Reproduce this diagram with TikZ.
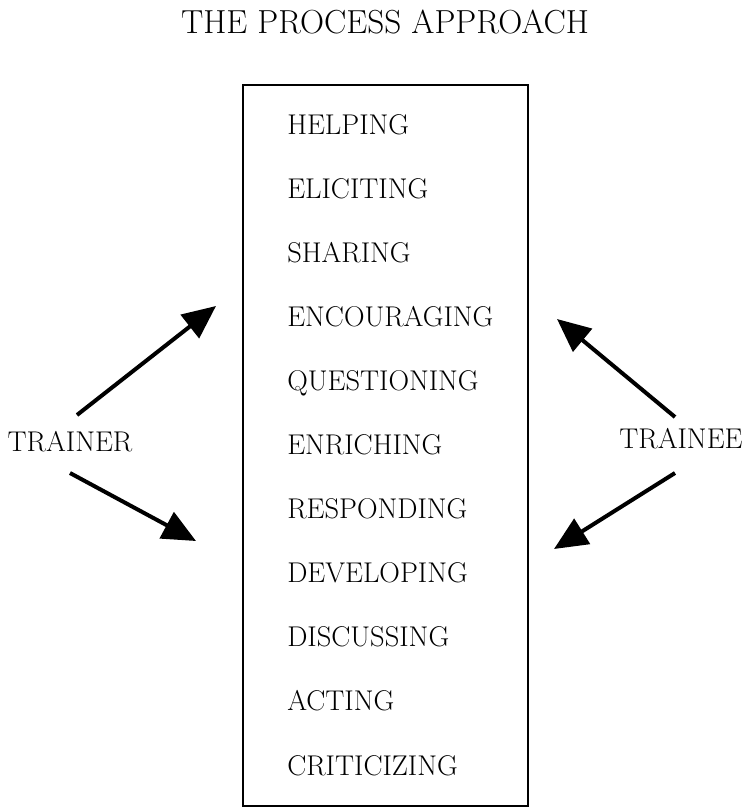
\documentclass[tikz,border=0pt]{standalone}
\usetikzlibrary{arrows.meta}

\begin{document}
\begin{tikzpicture}[x=0.75pt,y=-0.75pt,
    word/.style={anchor=base west,inner sep=0pt,font=\fontsize{21.4}{25}\selectfont},
    side/.style={anchor=base,inner sep=0pt,font=\fontsize{21.4}{25}\selectfont},
    pointer/.style={line width=3pt,-{Triangle[length=25pt,width=22pt]}}]
                \useasboundingbox (0,0) rectangle (745,808) ;
                \node[anchor=base,inner sep=0pt,font=\fontsize{25}{29}\selectfont] (title) at (385,33) {THE PROCESS APPROACH} ;
                \draw [line width=1.8pt] (243,85) rectangle (528,806) ;
                \node[word] (helping) at (287,134) {HELPING} ;
                \node[word] (eliciting) at (287,198.1) {ELICITING} ;
                \node[word] (sharing) at (287,262.2) {SHARING} ;
                \node[word] (encouraging) at (287,326.3) {ENCOURAGING} ;
                \node[word] (questioning) at (287,390.4) {QUESTIONING} ;
                \node[word] (enriching) at (287,454.5) {ENRICHING} ;
                \node[word] (responding) at (287,518.6) {RESPONDING} ;
                \node[word] (developing) at (287,582.7) {DEVELOPING} ;
                \node[word] (discussing) at (287,646.8) {DISCUSSING} ;
                \node[word] (acting) at (287,710.9) {ACTING} ;
                \node[word] (criticizing) at (287,775) {CRITICIZING} ;
                \node[side] (trainer) at (70,451) {TRAINER} ;
                \node[side] (trainee) at (681,448) {TRAINEE} ;
                % arrow ends
                \coordinate (trainerup) at (77,415) ;
                \coordinate (trainerdown) at (70,473) ;
                \coordinate (traineeup) at (675,417) ;
                \coordinate (traineedown) at (675,473) ;
                \coordinate (tipA) at (216,306) ;
                \coordinate (tipB) at (196,541) ;
                \coordinate (tipC) at (557,319) ;
                \coordinate (tipD) at (554,549) ;
                \draw [pointer] (trainerup) -- (tipA) ;
                \draw [pointer] (trainerdown) -- (tipB) ;
                \draw [pointer] (traineeup) -- (tipC) ;
                \draw [pointer] (traineedown) -- (tipD) ;
            \end{tikzpicture}
\end{document}
